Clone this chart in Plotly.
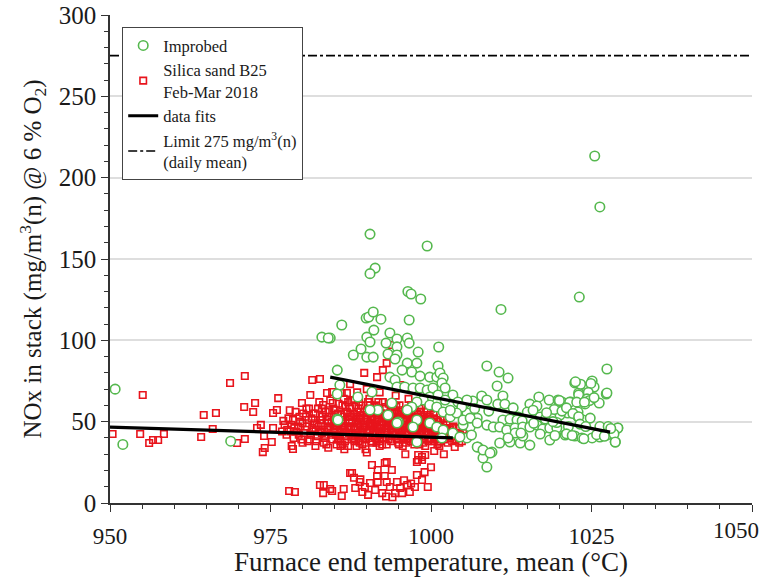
import plotly.graph_objects as go

# ---------------- data ----------------
# Improbed (green circles)
green_x = [
    1025.5, 1026.3, 1023.1, 1027.4, 990.5, 999.4, 991.3, 990.5, 996.4, 996.9,
    998.4, 1010.9, 986.1, 989.9, 990.3, 991.0, 992.2, 996.6, 991.1, 990.0,
    990.5, 993.6, 996.3, 996.6, 994.7, 993.0, 994.7, 998.0, 1001.2, 987.9,
    989.1, 990.0, 991.0, 993.3, 994.7, 994.4, 984.3, 985.4, 983.0, 984.0,
    950.8, 952.0, 968.8, 985.8, 985.4, 985.4,
    1008.7, 1010.6, 1012.0, 1010.3, 1011.2, 1022.4, 1025.1, 1024.9, 1024.5, 1025.4,
    1027.3, 1023.0, 1023.5, 1024.3, 1024.0, 1026.2, 1016.8, 1018.4, 1019.8, 1020.4,
    1021.8, 1022.1, 1022.9, 1015.4, 1016.5, 1007.9, 1008.7, 1006.5, 1005.3, 1010.4,
    1011.5, 1004.5, 1005.6, 1015.0, 1013.6, 1020.6, 1021.3, 1020.1, 1022.9, 1023.7,
    1024.8, 1011.2, 1012.3, 1013.4, 1014.2, 1017.0, 1017.8, 1007.2, 1008.7, 1006.1,
    1005.0, 1009.7, 1010.7, 1011.8, 1013.1, 1014.3, 1015.4, 1016.5, 1017.4, 1018.5,
    1019.6, 1020.9, 1022.4, 1023.5, 1025.1, 1026.3, 1027.4, 1028.7, 1029.1, 1018.5,
    1007.3, 1008.4, 1009.5, 1008.1, 1008.7, 1010.7, 1012.3, 1013.9, 1015.4, 1005.6,
    1006.3, 1013.1, 1014.3, 1017.0,
    996.3, 997.8, 1001.1, 995.5, 997.0, 998.3, 999.8, 1000.9, 1001.4, 1001.9,
    1001.7, 993.6, 994.4, 994.7, 995.9, 997.2, 998.3, 999.4, 1000.3, 1002.2,
    1003.4, 1004.2, 1005.6, 1004.8, 999.8, 1001.1, 1002.2, 998.8, 999.8, 1000.9,
    997.8, 997.0, 996.3, 1001.9, 1003.0, 1004.0, 1005.0, 1006.1, 1007.2, 997.8,
    999.8, 1000.9, 1001.9, 1003.4, 1004.5, 1007.2, 1008.1, 1009.2,
    985.5, 990.8, 988.6, 993.9, 991.7, 994.9, 997.2, 997.8, 993.3, 990.5,
    1001.7, 994.7,
    1027.1, 1029.1, 1028.5, 1028.7, 1027.4, 1023.3, 1024.9, 1024.5, 1022.5, 1023.0,
    1024.3, 1024.7, 1025.4, 1020.0, 1021.6, 1022.7, 1023.9, 1019.2, 1020.4, 1021.1,
    1022.1, 1023.0, 1019.6, 1021.4, 1023.2, 1024.1, 1026.3, 1027.6, 1028.0, 1019.3,
    1021.1, 1022.0, 1023.8, 1025.8, 1027.0,
    1003.0, 1006.8, 1009.0, 1012.8, 1015.9, 1018.0, 1019.0, 1016.0, 1014.0, 1012.0,
]
green_y = [
    213.3, 182.0, 126.6, 82.4, 165.3, 158.0, 144.4, 141.0, 130.0, 128.5,
    125.4, 119.0, 109.4, 113.7, 114.3, 117.4, 113.0, 112.5, 106.3, 102.0,
    99.0, 104.5, 101.4, 98.3, 100.8, 98.3, 96.0, 92.8, 95.9, 91.0,
    94.7, 89.7, 89.7, 91.6, 91.0, 88.5, 101.4, 81.7, 102.0, 101.4,
    70.0, 36.0, 38.0, 72.5, 67.0, 51.6,
    84.2, 80.5, 76.8, 71.9, 65.8, 73.8, 75.0, 71.9, 71.3, 71.3,
    67.0, 67.6, 62.7, 64.5, 60.9, 61.5, 65.2, 63.3, 63.3, 62.1,
    62.1, 59.0, 55.9, 60.8, 59.6, 65.8, 63.3, 62.7, 61.5, 60.8,
    60.8, 55.9, 55.3, 55.9, 52.9, 57.2, 55.3, 54.1, 52.9, 51.0,
    52.2, 51.0, 51.6, 51.0, 50.4, 52.9, 51.6, 52.2, 47.9, 46.7,
    47.9, 46.7, 46.7, 44.9, 46.1, 46.7, 46.7, 47.9, 45.5, 46.1,
    46.1, 41.8, 41.2, 40.0, 40.0, 40.6, 41.8, 37.5, 46.1, 38.7,
    34.4, 31.3, 31.3, 27.7, 22.1, 36.9, 37.5, 36.9, 35.6, 40.0,
    41.8, 43.0, 41.2, 42.4,
    86.0, 86.0, 84.2, 81.7, 80.5, 78.0, 77.4, 77.4, 79.9, 76.8,
    73.8, 77.4, 75.6, 71.3, 71.3, 70.7, 70.7, 69.5, 70.7, 70.7,
    66.4, 62.1, 63.3, 59.0, 65.2, 66.4, 63.3, 63.3, 60.2, 59.0,
    62.1, 59.0, 57.2, 55.9, 52.9, 55.3, 51.0, 52.2, 49.2, 51.0,
    49.2, 46.7, 44.9, 43.0, 40.6, 34.4, 32.6, 30.7,
    51.0, 68.2, 65.2, 61.5, 57.2, 49.8, 46.7, 37.5, 54.1, 57.2,
    40.0, 49.2,
    44.9, 46.1, 42.4, 37.5, 67.6, 73.0, 73.5, 68.0, 74.5, 66.5,
    64.0, 63.0, 64.8, 63.0, 62.0, 62.0, 62.0, 57.5, 56.5, 58.5,
    55.0, 53.0, 49.5, 47.0, 48.5, 47.0, 47.0, 47.0, 45.8, 41.5,
    42.5, 41.5, 39.5, 42.0, 41.0,
    57.0, 58.0, 56.5, 58.5, 57.0, 55.5, 50.0, 49.0, 43.0, 40.0,
]

# Silica sand B25, Feb-Mar 2018 (red squares)
red_x = [
    # scattered left part
    950.4, 955.1, 954.7, 956.1, 956.7, 957.5, 958.4, 964.2, 964.6, 966.5,
    966.0, 968.7, 971.0, 970.9, 972.3, 972.6, 969.8, 971.0, 972.9, 974.0,
    975.4, 975.2, 974.1, 973.8, 976.0, 976.2, 981.5, 982.7, 975.4, 978.3,
    978.5, 976.8, 977.0, 973.5,
    # dense cluster
    977.2, 977.8, 978.1, 978.6, 978.9, 979.3, 979.6, 979.9, 980.2, 980.5,
    980.8, 981.0, 981.2, 981.5, 981.8, 982.0, 982.3, 982.6, 982.9, 983.2,
    983.4, 983.7, 983.8, 984.1, 984.3, 984.6, 984.7, 985.0, 985.2, 985.5,
    985.7, 986.0, 986.1, 986.4, 986.7, 986.9, 987.1, 987.3, 987.6, 987.9,
    988.0, 988.2, 988.5, 988.7, 988.9, 989.1, 989.3, 989.5, 989.8, 990.0,
    990.2, 990.4, 990.6, 990.8, 991.0, 991.2, 991.4, 991.6, 991.8, 992.0,
    992.2, 992.4, 992.6, 992.8, 993.0, 993.2, 993.4, 993.6, 993.8, 994.0,
    994.2, 994.4, 994.6, 994.8, 995.0, 995.2, 995.4, 995.6, 995.8, 996.0,
    996.2, 996.4, 996.6, 996.8, 997.0, 997.2, 997.4, 997.6, 997.8, 998.0,
    998.2, 998.4, 998.6, 998.8, 999.0, 999.2, 999.4, 999.6, 999.8, 1000.0,
    1000.3, 1000.6, 1000.9, 1001.2, 1001.5, 1001.8, 1002.1, 1002.4, 1002.7, 1003.0,
    1003.3, 1003.7, 1004.0, 1004.3, 1004.6, 1005.0,
    984.0, 984.5, 985.1, 985.4, 985.9, 986.3, 986.8, 987.0, 987.5, 987.8,
    988.3, 988.6, 989.0, 989.4, 989.7, 990.1, 990.3, 990.7, 991.1, 991.3,
    991.7, 991.9, 992.3, 992.7, 992.9, 993.3, 993.5, 993.9, 994.1, 994.5,
    994.9, 995.3, 995.7, 995.9, 996.3, 996.7, 996.9, 997.3, 997.7, 997.9,
    998.3, 998.7, 998.9, 999.3, 999.7, 1000.1, 1000.5, 1000.8, 1001.0, 1001.4,
    985.3, 986.6, 988.4, 989.9, 991.5, 993.1, 994.7, 996.1, 997.5, 999.1,
    984.8, 986.2, 987.4, 988.8, 990.5, 991.9, 993.7, 995.1, 996.5, 997.9,
    982.5, 983.0, 981.4, 980.0, 979.0, 983.6, 982.1, 980.6, 978.3, 977.5,
    985.6, 986.5, 987.2, 988.1, 989.2, 990.9, 992.1, 993.0, 994.3, 995.5,
    996.0, 997.1, 998.1, 999.5, 1000.4, 1001.6, 1002.3, 1003.1, 1003.8, 1004.4,
    # upper tail
    989.6, 991.6, 992.5, 993.1, 993.9, 987.4, 995.2, 990.0, 988.5, 992.0,
    994.5, 996.5, 998.5, 1000.0, 1002.0,
    # lower tail of cluster
    998.0, 998.6, 993.1, 1002.0, 1000.5, 996.0, 990.0, 986.5, 984.0, 982.0,
    980.0,
    # low cluster
    977.9, 978.8, 982.7, 983.3, 983.2, 984.3, 984.6, 986.1, 986.4, 987.4,
    987.7, 988.2, 988.9, 989.7, 989.3, 990.5, 991.3, 991.7, 992.4, 990.8,
    991.7, 992.8, 993.9, 992.8, 991.6, 993.1, 993.6, 994.7, 995.2, 994.4,
    995.5, 996.3, 996.7, 997.5, 997.8, 998.6, 999.5, 998.0, 997.8, 998.6,
    999.1, 989.0, 990.2, 993.0, 995.8, 996.9, 994.0, 988.0, 1000.0, 999.0,
]
red_y = [
    42.4, 66.4, 42.4, 36.9, 38.7, 38.7, 42.4, 40.6, 54.1, 55.3,
    45.5, 73.8, 78.1, 59.0, 55.9, 61.5, 36.9, 39.3, 46.1, 41.2,
    46.1, 37.5, 33.8, 31.3, 57.2, 64.5, 75.6, 76.2, 55.3, 35.0,
    33.2, 44.0, 50.5, 48.0,
    48.0, 52.0, 44.0, 40.0, 56.0, 47.0, 50.0, 61.5, 43.0, 53.0,
    38.0, 58.0, 66.4, 46.0, 49.0, 55.0, 41.0, 62.0, 51.0, 60.2,
    44.0, 36.0, 67.6, 53.0, 47.0, 68.2, 61.5, 57.0, 42.0, 39.0,
    49.0, 54.0, 67.6, 45.0, 59.0, 67.6, 35.0, 51.0, 63.0, 63.3,
    47.0, 42.0, 56.0, 38.0, 52.0, 60.0, 45.0, 49.0, 33.0, 57.0,
    41.0, 64.0, 53.0, 37.0, 47.0, 59.0, 43.0, 51.0, 62.0, 35.0,
    55.0, 46.0, 40.0, 58.0, 49.0, 44.0, 61.0, 52.0, 38.0, 56.0,
    47.0, 42.0, 59.0, 50.0, 36.0, 54.0, 45.0, 48.0, 40.0, 57.0,
    51.0, 43.0, 55.0, 38.0, 47.0, 53.0, 41.0, 49.0, 45.0, 52.0,
    36.0, 56.0, 43.0, 48.0, 40.0, 51.0, 46.0, 38.0, 53.0, 44.0,
    49.0, 41.0, 47.0, 37.0, 51.0, 44.0, 39.0, 48.0, 42.0, 45.0,
    38.0, 34.4, 41.0, 46.0, 40.0, 43.0,
    45.0, 50.0, 47.0, 52.0, 44.0, 49.0, 41.0, 55.0, 46.0, 43.0,
    50.0, 45.0, 54.0, 40.0, 47.0, 51.0, 44.0, 49.0, 55.0, 40.0,
    46.0, 52.0, 43.0, 50.0, 46.0, 53.0, 41.0, 48.0, 44.0, 51.0,
    46.0, 42.0, 52.0, 47.0, 40.0, 49.0, 45.0, 50.0, 42.0, 47.0,
    44.0, 51.0, 39.0, 48.0, 42.0, 47.0, 52.0, 40.0, 45.0, 48.0,
    36.0, 38.0, 35.0, 39.0, 37.0, 36.0, 39.0, 37.0, 38.0, 35.0,
    58.0, 60.0, 58.0, 62.0, 60.0, 58.0, 57.0, 60.0, 58.0, 55.0,
    47.0, 43.0, 52.0, 49.0, 44.0, 56.0, 38.0, 58.0, 48.0, 42.0,
    42.0, 47.0, 53.0, 39.0, 44.0, 48.0, 42.0, 54.0, 50.0, 43.0,
    48.0, 44.0, 40.0, 43.0, 38.0, 42.0, 46.0, 41.0, 39.0, 37.0,
    80.0, 77.4, 81.7, 86.0, 97.1, 73.1, 72.5, 70.0, 68.0, 68.0,
    66.0, 64.0, 60.0, 58.0, 56.0,
    26.4, 28.3, 25.2, 30.0, 32.0, 30.0, 31.0, 33.0, 34.0, 35.0,
    37.0,
    7.4, 6.8, 11.1, 11.1, 6.1, 8.6, 7.4, 4.3, 8.6, 18.4,
    18.4, 9.2, 12.9, 9.8, 6.8, 12.3, 8.0, 12.9, 6.1, 23.4,
    20.3, 24.6, 20.3, 16.6, 16.6, 12.9, 9.8, 12.9, 9.2, 6.1,
    6.1, 11.1, 6.8, 9.8, 17.2, 14.1, 9.8, 29.5, 25.2, 26.4,
    29.5, 14.5, 5.0, 4.0, 14.0, 12.0, 3.5, 15.5, 22.0, 19.0,
]

# extra points of the solid red core
red_core_x = [
    980.4, 980.9, 981.3, 981.7, 982.2, 982.8, 983.1, 983.5, 983.9, 984.2,
    984.4, 984.9, 985.2, 985.8, 986.0, 986.5, 986.9, 987.2, 987.7, 988.1,
    988.4, 988.9, 989.2, 989.6, 990.0, 990.4, 990.8, 991.2, 991.6, 992.0,
    992.4, 992.8, 993.2, 993.6, 994.0, 994.3, 994.8, 995.1, 995.6, 996.0,
    996.4, 996.8, 997.1, 997.6, 998.0, 998.5, 998.9, 999.2, 999.6, 1000.2,
    1000.7, 1001.1, 1001.6, 1002.0, 1002.5, 1003.0, 1003.5, 1004.1, 1004.8, 1005.3,
    981.1, 982.4, 983.3, 984.6, 985.6, 986.2, 987.1, 987.9, 988.7, 989.3,
    990.2, 990.9, 991.4, 992.1, 992.5, 993.4, 994.2, 994.9, 995.4, 996.2,
    996.9, 997.4, 998.2, 998.8, 999.4, 999.9, 1000.4, 1001.3, 1001.9, 1002.6,
    985.0, 986.1, 987.3, 988.2, 989.1, 990.6, 991.0, 992.2, 993.8, 994.6,
    995.8, 996.6, 997.8, 998.4, 999.0, 1000.3, 985.5, 987.6, 989.8, 991.8,
    993.0, 995.0, 997.0, 999.8, 982.7, 983.9, 979.5, 978.7, 979.8, 978.0,
    982.0, 982.9, 983.6, 984.0, 984.8, 985.3, 985.9, 986.4, 986.7, 987.2,
    987.6, 988.0, 988.6, 989.0, 989.5, 989.9, 990.4, 990.7, 991.3, 991.6,
    992.0, 992.6, 992.9, 993.5, 993.9, 994.4, 994.7, 995.3, 995.7, 996.1,
    996.5, 997.0, 997.3, 997.9, 998.3, 998.7, 999.1, 999.5, 1000.0, 1000.5,
    1001.0, 1001.4, 1001.9, 1002.3, 1002.8, 1003.2, 1003.9, 1004.5, 983.0, 981.6,
    980.7, 979.4, 978.5, 977.6, 980.1, 984.3, 986.4, 988.3, 990.8, 992.9,
    994.9, 996.8, 998.6, 1000.9, 985.9, 988.9, 992.4, 995.6, 998.0, 1001.0,
]
red_core_y = [
    45, 51, 42, 55, 48, 44, 53, 40, 49, 57,
    42, 53, 48, 41, 51, 46, 56, 43, 50, 38,
    53, 47, 43, 56, 45, 40, 53, 49, 43, 57,
    50, 44, 47, 55, 42, 49, 53, 45, 39, 50,
    54, 47, 42, 52, 48, 41, 54, 44, 50, 42,
    46, 50, 41, 46, 44, 40, 47, 43, 38, 45,
    39, 58, 37, 39, 61, 36, 62, 40, 58, 36,
    62, 42, 60, 38, 62, 39, 60, 37, 57, 42,
    60, 36, 58, 37, 56, 39, 55, 35, 53, 37,
    44, 47, 49, 45, 51, 47, 44, 48, 46, 44,
    49, 44, 49, 46, 49, 45, 55, 53, 52, 54,
    52, 52, 51, 47, 51, 46, 53, 46, 39, 57,
    45, 49, 42, 51, 45, 50, 38, 53, 44, 47,
    41, 55, 49, 42, 46, 54, 48, 38, 52, 46,
    42, 53, 40, 50, 44, 56, 47, 41, 54, 46,
    39, 56, 45, 43, 50, 40, 46, 53, 40, 49,
    43, 38, 48, 42, 46, 43, 46, 42, 58, 44,
    47, 42, 51, 45, 55, 63, 64, 60, 57, 59,
    55, 53, 53, 51, 35, 37, 36, 35, 38, 36,
]

# linear data fits (end points)
fit_green_x = [984.3, 1027.9]
fit_green_y = [77.4, 43.6]
fit_red_x = [950.0, 1003.4]
fit_red_y = [46.7, 40.0]

# emission limit
limit_x = [950, 1050]
limit_y = [275, 275]

# axis tick labels
x_ticks = [950, 975, 1000, 1025, 1050]
x_ticktext = ["950", "975", "1000", "1025", ""]   # 1050 is drawn right-aligned below
y_ticks = [0, 50, 100, 150, 200, 250, 300]

# ---------------- figure ----------------
FONT = "Liberation Serif"
RED = "#e8141c"
fig = go.Figure()

fig.add_trace(go.Scatter(
    x=red_x + red_core_x, y=red_y + red_core_y, mode="markers",
    name="Silica sand B25<br>Feb-Mar 2018", legendrank=2,
    marker=dict(symbol="square-open", size=6.5, color=RED,
                line=dict(width=1.6, color=RED)),
))
fig.add_trace(go.Scatter(
    x=green_x, y=green_y, mode="markers", name="Improbed", legendrank=1,
    marker=dict(symbol="circle", size=9.5, color="white",
                line=dict(width=1.6, color="#55b84e")),
))
fig.add_trace(go.Scatter(
    x=fit_green_x, y=fit_green_y, mode="lines", name="data fits", legendrank=3,
    line=dict(color="black", width=3.2),
))
fig.add_trace(go.Scatter(
    x=fit_red_x, y=fit_red_y, mode="lines", showlegend=False,
    line=dict(color="black", width=3.2),
))
fig.add_trace(go.Scatter(
    x=limit_x, y=limit_y, mode="lines", legendrank=4,
    name="Limit 275 mg/m<sup>3</sup>(n)<br>(daily mean)",
    line=dict(color="black", width=1.6, dash="dashdot"),
))

fig.update_layout(
    width=763, height=577,
    margin=dict(l=110, r=11, t=15, b=74, autoexpand=False),
    paper_bgcolor="white", plot_bgcolor="white",
    font=dict(family=FONT, size=18, color="#1a1a1a"),
    legend=dict(
        x=0.019, y=0.975, xanchor="left", yanchor="top",
        bgcolor="white", bordercolor="#444", borderwidth=1,
        font=dict(family=FONT, size=16.5, color="#1a1a1a"),
        tracegroupgap=0, itemwidth=30,
    ),
    xaxis=dict(
        range=[950, 1050], tickvals=x_ticks, ticktext=x_ticktext,
        showgrid=False, zeroline=False, automargin=False,
        showline=True, linecolor="#333", linewidth=1.5,
        ticks="outside", ticklen=7, tickwidth=1.3, tickcolor="#333",
        ticklabeloverflow="allow", ticklabelstandoff=5,
        minor=dict(dtick=5, ticks="outside", ticklen=4, tickcolor="#333", tickwidth=1),
        tickfont=dict(family=FONT, size=23),
        title=dict(text="Furnace end temperature, mean (°C)",
                   font=dict(family=FONT, size=27), standoff=2),
    ),
    yaxis=dict(
        range=[0, 300], tickvals=y_ticks,
        showgrid=True, gridcolor="#dedede", gridwidth=1.5, zeroline=False,
        automargin=False, ticklabeloverflow="allow",
        showline=True, linecolor="#333", linewidth=1.5,
        ticks="outside", ticklen=7, tickwidth=1.3, tickcolor="#333",
        minor=dict(dtick=10, ticks="outside", ticklen=4, tickcolor="#333", tickwidth=1,
                   showgrid=False),
        tickfont=dict(family=FONT, size=25),
        title=dict(text="NOx in stack (mg/m<sup>3</sup>(n) @ 6 % O<sub>2</sub>)",
                   font=dict(family=FONT, size=25), standoff=10),
    ),
    annotations=[dict(
        x=x_ticks[-1], y=0, xref="x", yref="paper", text=str(x_ticks[-1]),
        xanchor="right", yanchor="top", xshift=9, yshift=-13, showarrow=False,
        font=dict(family=FONT, size=23, color="#1a1a1a"),
    )],
)

fig.write_html(
    "out.html",
    config={"displayModeBar": False},
    post_script="document.body.style.margin='0';document.body.style.overflow='hidden';",
)
